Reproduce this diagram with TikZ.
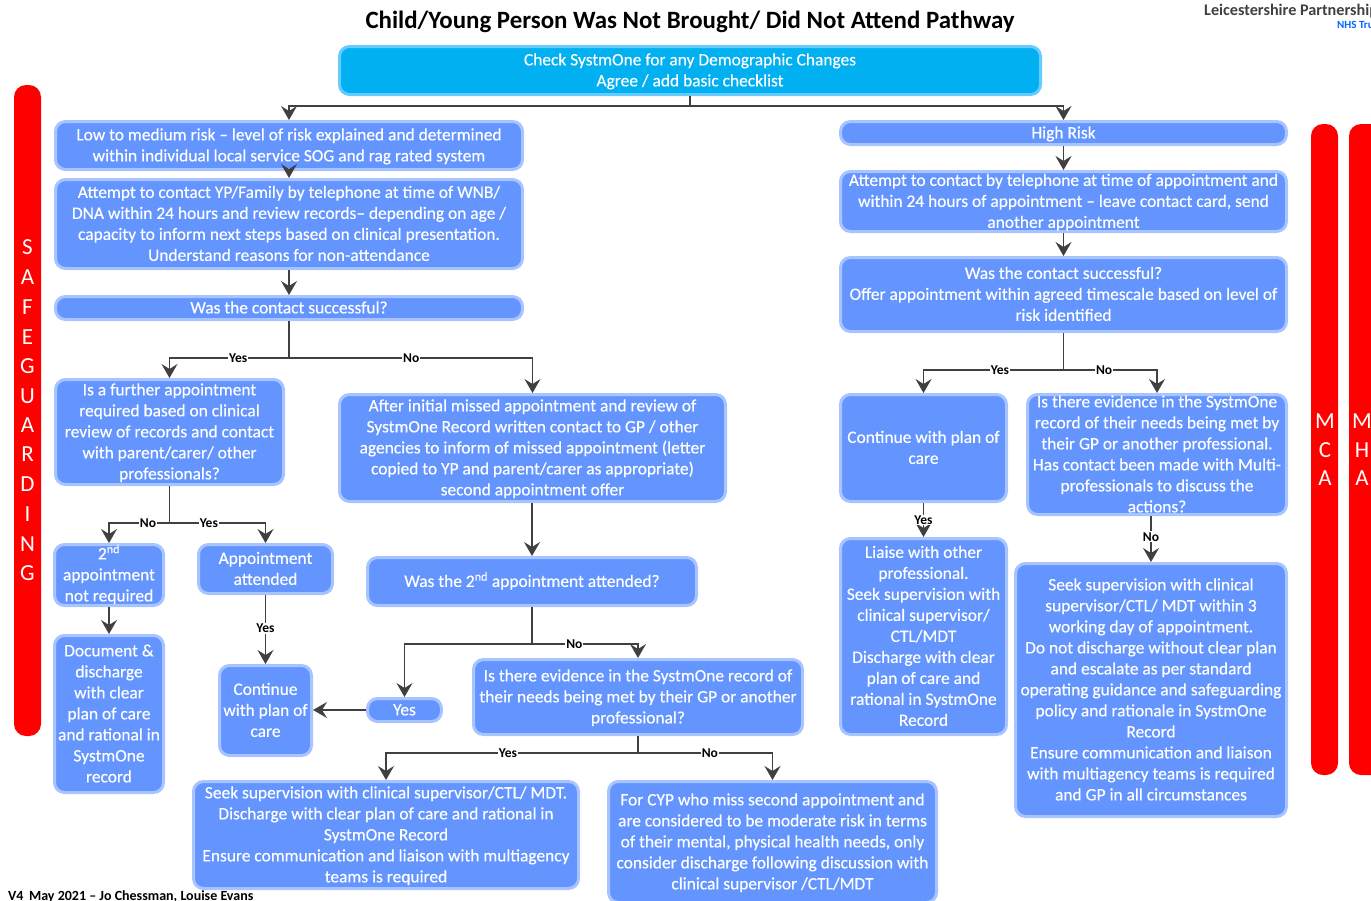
\documentclass[tikz,border=0pt]{standalone}
\usepackage{fontspec}
\setmainfont{Carlito}
\newfontfamily\boxfont[Ligatures=TeX,RawFeature={embolden=0.25}]{Carlito}
\usetikzlibrary{arrows.meta,calc}
\definecolor{boxfill}{HTML}{6495FF}
\definecolor{boxedge}{HTML}{A8C4FF}
\definecolor{topfill}{HTML}{00B0F0}
\definecolor{topedge}{HTML}{66CCFF}
\definecolor{linegrey}{HTML}{404040}
\tikzset{
  flowbox/.style={draw=boxedge,fill=boxfill,line width=3pt,rounded corners=10pt,inner sep=0pt,text=white,font=\boxfont\fontsize{17.4}{21}\selectfont},
  topbox/.style={flowbox,draw=topedge,fill=topfill},
  sidebar/.style={fill=red,draw=none,rounded corners=12pt},
  sideletter/.style={text=white,inner sep=0pt,font=\fontsize{23}{26}\selectfont},
  conn/.style={draw=linegrey,line width=1.5pt},
  arr/.style={conn,-{Stealth[length=14pt,width=16pt,inset=5pt]}},
  lab/.style={fill=white,text=black,inner sep=1pt,font=\bfseries\fontsize{13.5}{15}\selectfont},
}
\newcommand\bx[6][flowbox]{%
  \pgfmathsetmacro\bxw{#5-#3-3}\pgfmathsetmacro\bxh{#6-#4-3}%
  \pgfmathsetmacro\bxx{(#3+#5)/2}\pgfmathsetmacro\bxy{(#4+#6)/2}%
  \bxnode{#1}{#2}\bxtail}
\newcommand\bxnode[2]{\def\bxstyle{#1}\def\bxname{#2}}
\newcommand\bxtail[1]{%
  \node[\bxstyle,minimum width=\bxw pt,minimum height=\bxh pt] (\bxname) at (\bxx,\bxy)
  {\raisebox{-11pt}{\smash{\begin{tabular}{@{}c@{}}#1\end{tabular}}}};}
\begin{document}
\begin{tikzpicture}[x=1pt,y=-1pt]
\useasboundingbox (0,0) rectangle (1371,900);
\clip (0,0) rectangle (1371,900);
% title and small print
\node[inner sep=0pt,font=\bfseries\fontsize{24.9}{28}\selectfont] (title) at (690,22) {Child/Young Person Was Not Brought/ Did Not Attend Pathway};
\node[anchor=west,inner sep=0pt,text=black!75,font=\bfseries\fontsize{16.2}{18}\selectfont] (org) at (1204,11.5) {Leicestershire Partnership};
\node[anchor=west,inner sep=0pt,text=blue!60!cyan,font=\bfseries\fontsize{11}{12}\selectfont] (trust) at (1337,24.5) {NHS Trust};
\node[anchor=west,inner sep=0pt,font=\bfseries\fontsize{14}{16}\selectfont] (foot) at (8,897) {V4\, May 2021 -- Jo Chessman, Louise Evans};
% side bars
\fill[sidebar] (14,85) rectangle (41,736);
\fill[sidebar] (1311,124) rectangle (1338,775);
\fill[sidebar] (1349,124) rectangle (1385,775);
\foreach \c/\y in {S/247,A/277,F/307,E/337,G/366,U/396,A/425,R/454,D/484,I/514,N/544,G/573}
  \node[sideletter] at (27.5,\y) {\c};
\foreach \c/\y in {M/421,C/450,A/478} \node[sideletter] at (1325,\y) {\c};
\foreach \c/\y in {M/421,H/450,A/478} \node[sideletter] at (1362,\y) {\c};
% boxes
\bx[topbox]{top}{338}{45}{1042}{96}{Check SystmOne for any Demographic Changes\\Agree / add basic checklist}
\bx{low}{54}{120}{524}{171}{Low to medium risk -- level of risk explained and determined\\within individual local service SOG and rag rated system}
\bx{attempt}{54}{178}{524}{270}{Attempt to contact YP/Family by telephone at time of WNB/\\DNA within 24 hours and review records-- depending on age /\\capacity to inform next steps based on clinical presentation.\\Understand reasons for non-attendance}
\bx{success}{54}{295}{524}{321}{Was the contact successful?}
\bx{further}{54}{378}{285}{486}{Is a further appointment\\required based on clinical\\review of records and contact\\with parent/carer/ other\\professionals?}
\bx{after}{338}{393}{727}{503}{After initial missed appointment and review of\\SystmOne Record written contact to GP / other\\agencies to inform of missed appointment (letter\\copied to YP and parent/carer as appropriate)\\second appointment offer}
\bx{notreq}{53}{543}{165}{607}{2\textsuperscript{nd}\\appointment\\not required}
\bx{attended}{197}{543}{334}{595}{Appointment\\attended}
\bx{second}{366}{556}{698}{607}{Was the 2\textsuperscript{nd} appointment attended?}
\bx{doc}{53}{634}{165}{794}{Document \&\\discharge\\with clear\\plan of care\\and rational in\\SystmOne\\record}
\bx{cont}{218}{664}{313}{757}{Continue\\with plan of\\care}
\bx{yes}{366}{697}{443}{723}{Yes}
\bx{evid}{472}{658}{804}{736}{Is there evidence in the SystmOne record of\\their needs being met by their GP or another\\professional?}
\bx{seek}{192}{780}{580}{890}{Seek supervision with clinical supervisor/CTL/ MDT.\\Discharge with clear plan of care and rational in\\SystmOne Record\\Ensure communication and liaison with multiagency\\teams is required}
\bx{cyp}{607}{780}{938}{904}{For CYP who miss second appointment and\\are considered to be moderate risk in terms\\of their mental, physical health needs, only\\consider discharge following discussion with\\clinical supervisor /CTL/MDT}
\bx{high}{839}{120}{1288}{146}{High Risk}
\bx{hattempt}{839}{170}{1288}{233}{Attempt to contact by telephone at time of appointment and\\within 24 hours of appointment -- leave contact card, send\\another appointment}
\bx{hsuccess}{839}{256}{1288}{333}{Was the contact successful?\\Offer appointment within agreed timescale based on level of\\risk identified}
\bx{hcont}{839}{393}{1008}{503}{Continue with plan of\\care}
\bx{hevid}{1026}{393}{1288}{516}{Is there evidence in the SystmOne\\record of their needs being met by\\their GP or another professional.\\Has contact been made with Multi-\\professionals to discuss the\\actions?}
\bx{liaise}{839}{537}{1008}{736}{Liaise with other\\professional.\\Seek supervision with\\clinical supervisor/\\CTL/MDT\\Discharge with clear\\plan of care and\\rational in SystmOne\\Record}
\bx{hseek}{1014}{562}{1288}{818}{Seek supervision with clinical\\supervisor/CTL/ MDT within 3\\working day of appointment.\\Do not discharge without clear plan\\and escalate as per standard\\operating guidance and safeguarding\\policy and rationale in SystmOne\\Record\\Ensure communication and liaison\\with multiagency teams is required\\and GP in all circumstances}
% junctions
\coordinate (j1) at (690,106);
\coordinate (j2) at (289,358);
\coordinate (j3) at (169.5,523);
\coordinate (j4) at (532,644);
\coordinate (j5) at (638,753);
\coordinate (j6) at (1063.5,370);
% connectors
\draw[conn] (top.south) -- (j1);
\draw[arr] (j1) -| (low.north);
\draw[arr] (j1) -| (high.north);
\draw[arr] (low.south) -- (attempt.north);
\draw[arr] (attempt.south) -- (success.north);
\draw[conn] (success.south) -- (j2);
\draw[arr] (j2) -| node[lab,pos=.2125] (l1) {Yes} (further.north);
\draw[arr] (j2) -| node[lab,pos=.251] (l2) {No} (after.north);
\draw[conn] (further.south) -- (j3);
\draw[arr] (j3) -| node[lab,pos=.178] (l3) {No} (notreq.north);
\draw[arr] (j3) -| node[lab,pos=.205] (l4) {Yes} (attended.north);
\draw[arr] (notreq.south) -- (doc.north);
\draw[arr] (attended.south) -- node[lab,pos=.48] (l5) {Yes} (cont.north);
\draw[arr] (second.north |- after.south) -- (second.north);
\draw[conn] (second.south) -- (j4);
\draw[arr] (j4) -| (yes.north);
\draw[arr] (j4) -| node[lab,pos=.2] (l6) {No} (evid.north);
\draw[arr] (yes.west) -- (cont.east |- yes.west);
\draw[conn] (evid.south) -- (j5);
\draw[arr] (j5) -| node[lab,pos=.258] (l7) {Yes} (seek.north);
\draw[arr] (j5) -| node[lab,pos=.267] (l8) {No} (cyp.north);
\draw[arr] (high.south) -- (hattempt.north);
\draw[arr] (hattempt.south) -- (hsuccess.north);
\draw[conn] (hsuccess.south) -- (j6);
\draw[arr] (j6) -| node[lab,pos=.227] (l9) {Yes} (hcont.north);
\draw[arr] (j6) -| node[lab,pos=.217] (l10) {No} (hevid.north);
\draw[arr] (hcont.south) -- node[lab,pos=.5] (l11) {Yes} (liaise.north);
\draw[arr] (hseek.north |- hevid.south) -- node[lab,pos=.45] (l12) {No} (hseek.north);
\end{tikzpicture}
\end{document}
